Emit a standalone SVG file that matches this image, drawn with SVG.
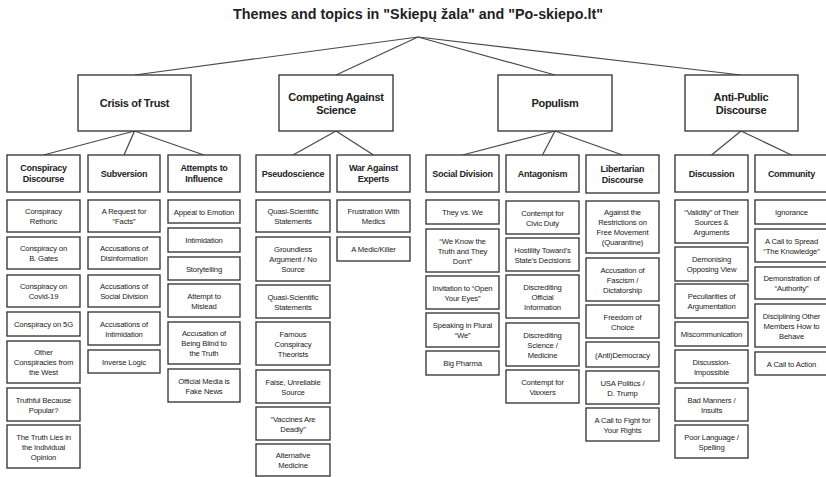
<svg xmlns="http://www.w3.org/2000/svg" width="826" height="477" viewBox="0 0 826 477">
<style>
rect{fill:#fff;stroke:#3c3c3c;stroke-width:1.4}
.c line{stroke:#4a4a4a;stroke-width:1.2}
text{font-family:"Liberation Sans Narrow","Arial Narrow","Liberation Sans",Arial,sans-serif;text-anchor:middle;fill:#222}
.t0{font-size:14px;font-weight:bold}
.t1{font-size:11px;font-weight:bold;letter-spacing:-0.3px}
.t2{font-size:9px;font-weight:bold;letter-spacing:-0.25px}
.t3{font-size:7.7px;letter-spacing:-0.15px}
</style>
<rect x="0" y="0" width="826" height="477" style="stroke:none;fill:#fff"/>
<text class="t0" x="418" y="18.5" textLength="370" lengthAdjust="spacingAndGlyphs">Themes and topics in "Skiepų žala" and "Po-skiepo.lt"</text>
<g class="c" id="connectors">
<line x1="418" y1="37" x2="134.5" y2="75"/>
<line x1="418" y1="37" x2="336" y2="75"/>
<line x1="418" y1="37" x2="555" y2="75"/>
<line x1="418" y1="37" x2="741" y2="75"/>
<line x1="134.5" y1="131" x2="43.5" y2="155"/>
<line x1="134.5" y1="131" x2="124" y2="155"/>
<line x1="134.5" y1="131" x2="204" y2="155"/>
<line x1="336" y1="131" x2="293" y2="155"/>
<line x1="336" y1="131" x2="373.5" y2="155"/>
<line x1="555" y1="131" x2="462.5" y2="155"/>
<line x1="555" y1="131" x2="542.5" y2="155"/>
<line x1="555" y1="131" x2="622.5" y2="155"/>
<line x1="741" y1="131" x2="711.5" y2="155"/>
<line x1="741" y1="131" x2="791.5" y2="155"/>
</g>
<g id="crisis"><rect x="78" y="75" width="113" height="56"/><text class="t1" x="134.5" y="107">Crisis of Trust</text></g>
<g id="competing"><rect x="279" y="75" width="114" height="56"/><text class="t1" x="336" y="101">Competing Against</text><text class="t1" x="336" y="114">Science</text></g>
<g id="populism"><rect x="498" y="75" width="114" height="56"/><text class="t1" x="555" y="107">Populism</text></g>
<g id="antipublic"><rect x="685" y="75" width="113" height="56"/><text class="t1" x="741" y="101">Anti-Public</text><text class="t1" x="741" y="114">Discourse</text></g>

<g id="conspiracy-discourse"><rect x="7" y="155" width="73" height="37"/><text class="t2" x="43.5" y="171.3">Conspiracy</text><text class="t2" x="43.5" y="182.3">Discourse</text></g>
<g id="subversion"><rect x="88" y="155" width="72" height="37"/><text class="t2" x="124" y="176.8">Subversion</text></g>
<g id="attempts"><rect x="168" y="155" width="72" height="37"/><text class="t2" x="204" y="171.3">Attempts to</text><text class="t2" x="204" y="182.3">Influence</text></g>
<g id="pseudoscience"><rect x="256" y="155" width="74" height="37"/><text class="t2" x="293" y="176.8">Pseudoscience</text></g>
<g id="war"><rect x="337" y="155" width="73" height="37"/><text class="t2" x="373.5" y="171.3">War Against</text><text class="t2" x="373.5" y="182.3">Experts</text></g>
<g id="social-division"><rect x="426" y="155" width="73" height="37"/><text class="t2" x="462.5" y="176.8">Social Division</text></g>
<g id="antagonism"><rect x="506" y="155" width="73" height="37"/><text class="t2" x="542.5" y="176.8">Antagonism</text></g>
<g id="libertarian"><rect x="586" y="155" width="73" height="38"/><text class="t2" x="622.5" y="171.8">Libertarian</text><text class="t2" x="622.5" y="182.8">Discourse</text></g>
<g id="discussion"><rect x="675" y="155" width="73" height="37"/><text class="t2" x="711.5" y="176.8">Discussion</text></g>
<g id="community"><rect x="755" y="155" width="73" height="37"/><text class="t2" x="791.5" y="176.8">Community</text></g>

<g id="a1"><rect x="7" y="200" width="73" height="32"/><text class="t3" x="43.5" y="214">Conspiracy</text><text class="t3" x="43.5" y="224">Rethoric</text></g>
<g id="a2"><rect x="7" y="237" width="73" height="32"/><text class="t3" x="43.5" y="251">Conspiracy on</text><text class="t3" x="43.5" y="261">B. Gates</text></g>
<g id="a3"><rect x="7" y="275" width="73" height="32"/><text class="t3" x="43.5" y="289">Conspiracy on</text><text class="t3" x="43.5" y="299">Covid-19</text></g>
<g id="a4"><rect x="7" y="312" width="73" height="24"/><text class="t3" x="43.5" y="327">Conspiracy on 5G</text></g>
<g id="a5"><rect x="7" y="341" width="73" height="42"/><text class="t3" x="43.5" y="355">Other</text><text class="t3" x="43.5" y="365">Conspiracies from</text><text class="t3" x="43.5" y="375">the West</text></g>
<g id="a6"><rect x="7" y="388" width="73" height="33"/><text class="t3" x="43.5" y="402.5">Truthful Because</text><text class="t3" x="43.5" y="412.5">Popular?</text></g>
<g id="a7"><rect x="7" y="425" width="73" height="43"/><text class="t3" x="43.5" y="439.5">The Truth Lies in</text><text class="t3" x="43.5" y="449.5">the Individual</text><text class="t3" x="43.5" y="459.5">Opinion</text></g>

<g id="b1"><rect x="88" y="200" width="72" height="32"/><text class="t3" x="124" y="214">A Request for</text><text class="t3" x="124" y="224">“Facts”</text></g>
<g id="b2"><rect x="88" y="237" width="72" height="32"/><text class="t3" x="124" y="251">Accusations of</text><text class="t3" x="124" y="261">Disinformation</text></g>
<g id="b3"><rect x="88" y="275" width="72" height="32"/><text class="t3" x="124" y="289">Accusations of</text><text class="t3" x="124" y="299">Social Division</text></g>
<g id="b4"><rect x="88" y="312" width="72" height="33"/><text class="t3" x="124" y="326.5">Accusations of</text><text class="t3" x="124" y="336.5">Intimidation</text></g>
<g id="b5"><rect x="88" y="350" width="72" height="23"/><text class="t3" x="124" y="364.5">Inverse Logic</text></g>

<g id="c1"><rect x="168" y="200" width="72" height="23"/><text class="t3" x="204" y="214.5">Appeal to Emotion</text></g>
<g id="c2"><rect x="168" y="228" width="72" height="24"/><text class="t3" x="204" y="243">Intimidation</text></g>
<g id="c3"><rect x="168" y="257" width="72" height="23"/><text class="t3" x="204" y="271.5">Storytelling</text></g>
<g id="c4"><rect x="168" y="284" width="72" height="33"/><text class="t3" x="204" y="298.5">Attempt to</text><text class="t3" x="204" y="308.5">Mislead</text></g>
<g id="c5"><rect x="168" y="322" width="72" height="42"/><text class="t3" x="204" y="336">Accusation of</text><text class="t3" x="204" y="346">Being Blind to</text><text class="t3" x="204" y="356">the Truth</text></g>
<g id="c6"><rect x="168" y="369" width="72" height="33"/><text class="t3" x="204" y="383.5">Official Media is</text><text class="t3" x="204" y="393.5">Fake News</text></g>

<g id="d1"><rect x="256" y="200" width="74" height="32"/><text class="t3" x="293" y="214">Quasi-Scientific</text><text class="t3" x="293" y="224">Statements</text></g>
<g id="d2"><rect x="256" y="237" width="74" height="44"/><text class="t3" x="293" y="252">Groundless</text><text class="t3" x="293" y="262">Argument / No</text><text class="t3" x="293" y="272">Source</text></g>
<g id="d3"><rect x="256" y="285" width="74" height="33"/><text class="t3" x="293" y="299.5">Quasi-Scientific</text><text class="t3" x="293" y="309.5">Statements</text></g>
<g id="d4"><rect x="256" y="322" width="74" height="43"/><text class="t3" x="293" y="336.5">Famous</text><text class="t3" x="293" y="346.5">Conspiracy</text><text class="t3" x="293" y="356.5">Theorists</text></g>
<g id="d5"><rect x="256" y="370" width="74" height="33"/><text class="t3" x="293" y="384.5">False, Unreliable</text><text class="t3" x="293" y="394.5">Source</text></g>
<g id="d6"><rect x="256" y="407" width="74" height="33"/><text class="t3" x="293" y="421.5">“Vaccines Are</text><text class="t3" x="293" y="431.5">Deadly”</text></g>
<g id="d7"><rect x="256" y="444" width="74" height="32"/><text class="t3" x="293" y="458">Alternative</text><text class="t3" x="293" y="468">Medicine</text></g>

<g id="e1"><rect x="337" y="200" width="73" height="32"/><text class="t3" x="373.5" y="214">Frustration With</text><text class="t3" x="373.5" y="224">Medics</text></g>
<g id="e2"><rect x="337" y="237" width="73" height="24"/><text class="t3" x="373.5" y="252">A Medic/Killer</text></g>

<g id="f1"><rect x="426" y="200" width="73" height="24"/><text class="t3" x="462.5" y="215">They vs. We</text></g>
<g id="f2"><rect x="426" y="229" width="73" height="43"/><text class="t3" x="462.5" y="243.5">“We Know the</text><text class="t3" x="462.5" y="253.5">Truth and They</text><text class="t3" x="462.5" y="263.5">Don't”</text></g>
<g id="f3"><rect x="426" y="276" width="73" height="33"/><text class="t3" x="462.5" y="290.5">Invitation to “Open</text><text class="t3" x="462.5" y="300.5">Your Eyes”</text></g>
<g id="f4"><rect x="426" y="313" width="73" height="34"/><text class="t3" x="462.5" y="328">Speaking in Plural</text><text class="t3" x="462.5" y="338">“We”</text></g>
<g id="f5"><rect x="426" y="351" width="73" height="24"/><text class="t3" x="462.5" y="366">Big Pharma</text></g>

<g id="g1"><rect x="506" y="201" width="73" height="33"/><text class="t3" x="542.5" y="215.5">Contempt for</text><text class="t3" x="542.5" y="225.5">Civic Duty</text></g>
<g id="g2"><rect x="506" y="238" width="73" height="33"/><text class="t3" x="542.5" y="252.5">Hostility Toward's</text><text class="t3" x="542.5" y="262.5">State's Decisions</text></g>
<g id="g3"><rect x="506" y="275" width="73" height="43"/><text class="t3" x="542.5" y="289.5">Discrediting</text><text class="t3" x="542.5" y="299.5">Official</text><text class="t3" x="542.5" y="309.5">Information</text></g>
<g id="g4"><rect x="506" y="323" width="73" height="43"/><text class="t3" x="542.5" y="337.5">Discrediting</text><text class="t3" x="542.5" y="347.5">Science /</text><text class="t3" x="542.5" y="357.5">Medicine</text></g>
<g id="g5"><rect x="506" y="370" width="73" height="33"/><text class="t3" x="542.5" y="384.5">Contempt for</text><text class="t3" x="542.5" y="394.5">Vaxxers</text></g>

<g id="h1"><rect x="586" y="201" width="73" height="52"/><text class="t3" x="622.5" y="215">Against the</text><text class="t3" x="622.5" y="225">Restrictions on</text><text class="t3" x="622.5" y="235">Free Movement</text><text class="t3" x="622.5" y="245">(Quarantine)</text></g>
<g id="h2"><rect x="586" y="258" width="73" height="43"/><text class="t3" x="622.5" y="272.5">Accusation of</text><text class="t3" x="622.5" y="282.5">Fascism /</text><text class="t3" x="622.5" y="292.5">Dictatorship</text></g>
<g id="h3"><rect x="586" y="305" width="73" height="33"/><text class="t3" x="622.5" y="319.5">Freedom of</text><text class="t3" x="622.5" y="329.5">Choice</text></g>
<g id="h4"><rect x="586" y="342" width="73" height="25"/><text class="t3" x="622.5" y="357.5">(Anti)Democracy</text></g>
<g id="h5"><rect x="586" y="371" width="73" height="33"/><text class="t3" x="622.5" y="385.5">USA Politics /</text><text class="t3" x="622.5" y="395.5">D. Trump</text></g>
<g id="h6"><rect x="586" y="408" width="73" height="33"/><text class="t3" x="622.5" y="422.5">A Call to Fight for</text><text class="t3" x="622.5" y="432.5">Your Rights</text></g>

<g id="i1"><rect x="675" y="200" width="73" height="43"/><text class="t3" x="711.5" y="214.5">“Validity” of Their</text><text class="t3" x="711.5" y="224.5">Sources &amp;</text><text class="t3" x="711.5" y="234.5">Arguments</text></g>
<g id="i2"><rect x="675" y="247" width="73" height="34"/><text class="t3" x="711.5" y="262">Demonising</text><text class="t3" x="711.5" y="272">Opposing View</text></g>
<g id="i3"><rect x="675" y="284" width="73" height="34"/><text class="t3" x="711.5" y="299">Peculiarities of</text><text class="t3" x="711.5" y="309">Argumentation</text></g>
<g id="i4"><rect x="675" y="322" width="73" height="24"/><text class="t3" x="711.5" y="337">Miscommunication</text></g>
<g id="i5"><rect x="675" y="350" width="73" height="33"/><text class="t3" x="711.5" y="364.5">Discussion-</text><text class="t3" x="711.5" y="374.5">Impossible</text></g>
<g id="i6"><rect x="675" y="388" width="73" height="33"/><text class="t3" x="711.5" y="402.5">Bad Manners /</text><text class="t3" x="711.5" y="412.5">Insults</text></g>
<g id="i7"><rect x="675" y="425" width="73" height="33"/><text class="t3" x="711.5" y="439.5">Poor Language /</text><text class="t3" x="711.5" y="449.5">Spelling</text></g>

<g id="j1"><rect x="755" y="200" width="73" height="24"/><text class="t3" x="791.5" y="215">Ignorance</text></g>
<g id="j2"><rect x="755" y="229" width="73" height="33"/><text class="t3" x="791.5" y="243.5">A Call to Spread</text><text class="t3" x="791.5" y="253.5">“The Knowledge”</text></g>
<g id="j3"><rect x="755" y="267" width="73" height="32"/><text class="t3" x="791.5" y="281">Demonstration of</text><text class="t3" x="791.5" y="291">“Authority”</text></g>
<g id="j4"><rect x="755" y="304" width="73" height="43"/><text class="t3" x="791.5" y="318.5">Disciplining Other</text><text class="t3" x="791.5" y="328.5">Members How to</text><text class="t3" x="791.5" y="338.5">Behave</text></g>
<g id="j5"><rect x="755" y="352" width="73" height="23"/><text class="t3" x="791.5" y="366.5">A Call to Action</text></g>
</svg>
